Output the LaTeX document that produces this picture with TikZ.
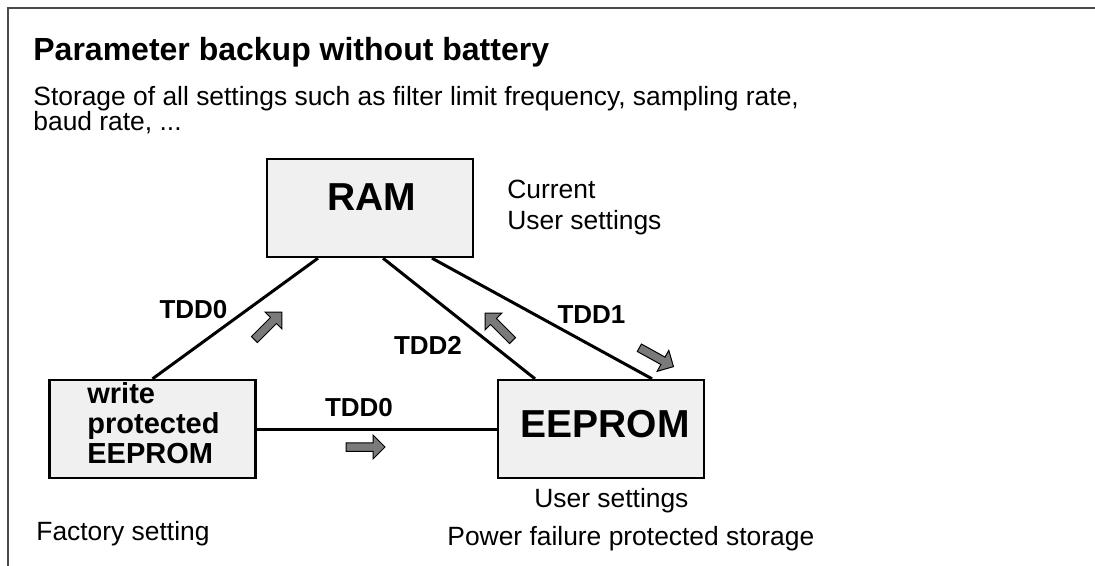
\documentclass[tikz,border=0pt]{standalone}
\usepackage{fontspec}
\setmainfont{Liberation Sans}
\usetikzlibrary{calc}
\definecolor{boxfill}{HTML}{F0F0F0}
\definecolor{arrowgray}{HTML}{7A7A7A}
\definecolor{framegray}{HTML}{4A4A4A}
\tikzset{
  membox/.style={draw=black, line width=1.2pt, fill=boxfill, minimum width=103pt, minimum height=49pt, inner sep=0pt},
  conn/.style={line width=1.5pt},
  lbl/.style={font=\fontsize{13}{15}\selectfont\bfseries, inner sep=0pt, anchor=base},
  txt/.style={font=\fontsize{13.2}{15}\selectfont, inner sep=0pt, anchor=base west},
  wptxt/.style={font=\fontsize{14.5}{16}\selectfont\bfseries, inner sep=0pt, anchor=base west},
  bigtxt/.style={font=\fontsize{19.5}{22}\selectfont\bfseries, inner sep=0pt, anchor=base},
  blockarrow/.style={fill=arrowgray, draw=black, line width=0.5pt, line join=miter},
  gray arrow/.pic={\draw[blockarrow] (-19.5,-4.25) -- (7.5,-4.25) -- (7.5,-12) -- (19.5,0) -- (7.5,12) -- (7.5,4.25) -- (-19.5,4.25) -- cycle;}
}
\begin{document}
\begin{tikzpicture}[x=0.5pt,y=-0.5pt]
\useasboundingbox (0,0) rectangle (1095,566);
% frame
\draw[framegray, line width=0.8pt] (8,566) -- (8,8) -- (1095,8);
% title and description
\node[font=\fontsize{16}{19}\selectfont\bfseries, inner sep=0pt, anchor=base west] (title) at (33,61) {Parameter backup without battery};
\node[txt] (desc1) at (33,106) {Storage of all settings such as filter limit frequency, sampling rate,};
\node[txt] (desc2) at (33,131) {baud rate, ...};
% boxes
\node[membox] (ram) at (370,208) {};
\node[membox] (wp) at (152.5,429) {};
\node[membox] (ee) at (601,429) {};
% connectors
\draw[conn] (wp.north) -- ($(ram.south)+(-52,0)$);
\draw[conn] ($(ram.south)+(13,0)$) -- ($(ee.north)+(-66,0)$);
\draw[conn] ($(ram.south)+(62,0)$) -- ($(ee.north)+(51,0)$);
\draw[conn] (wp.east) -- (ee.west);
% box texts
\node[bigtxt] (ramtxt) at (372,211) {RAM};
\node[bigtxt] (eetxt) at (605,437) {EEPROM};
\node[wptxt] (wp1) at (87,403) {write};
\node[wptxt] (wp2) at (87,433) {protected};
\node[wptxt] (wp3) at (87,463) {EEPROM};
% labels
\node[lbl] (l0a) at (193.5,318) {TDD0};
\node[lbl] (l2) at (428,354) {TDD2};
\node[lbl] (l1) at (591.5,323) {TDD1};
\node[lbl] (l0b) at (359,416.7) {TDD0};
% side texts
\node[txt] (cur1) at (507,199) {Current};
\node[txt] (cur2) at (507,230) {User settings};
\node[txt] (us) at (534,507) {User settings};
\node[txt] (pf) at (447,545) {Power failure protected storage};
\node[txt] (fs) at (36,540) {Factory setting};
% gray direction arrows
\pic[rotate=45] at (268.2,325.8) {gray arrow};
\pic[rotate=135] at (498.8,326.8) {gray arrow};
\pic[rotate=-29] at (656.4,357.2) {gray arrow};
\pic at (365.5,447) {gray arrow};
\end{tikzpicture}
\end{document}
